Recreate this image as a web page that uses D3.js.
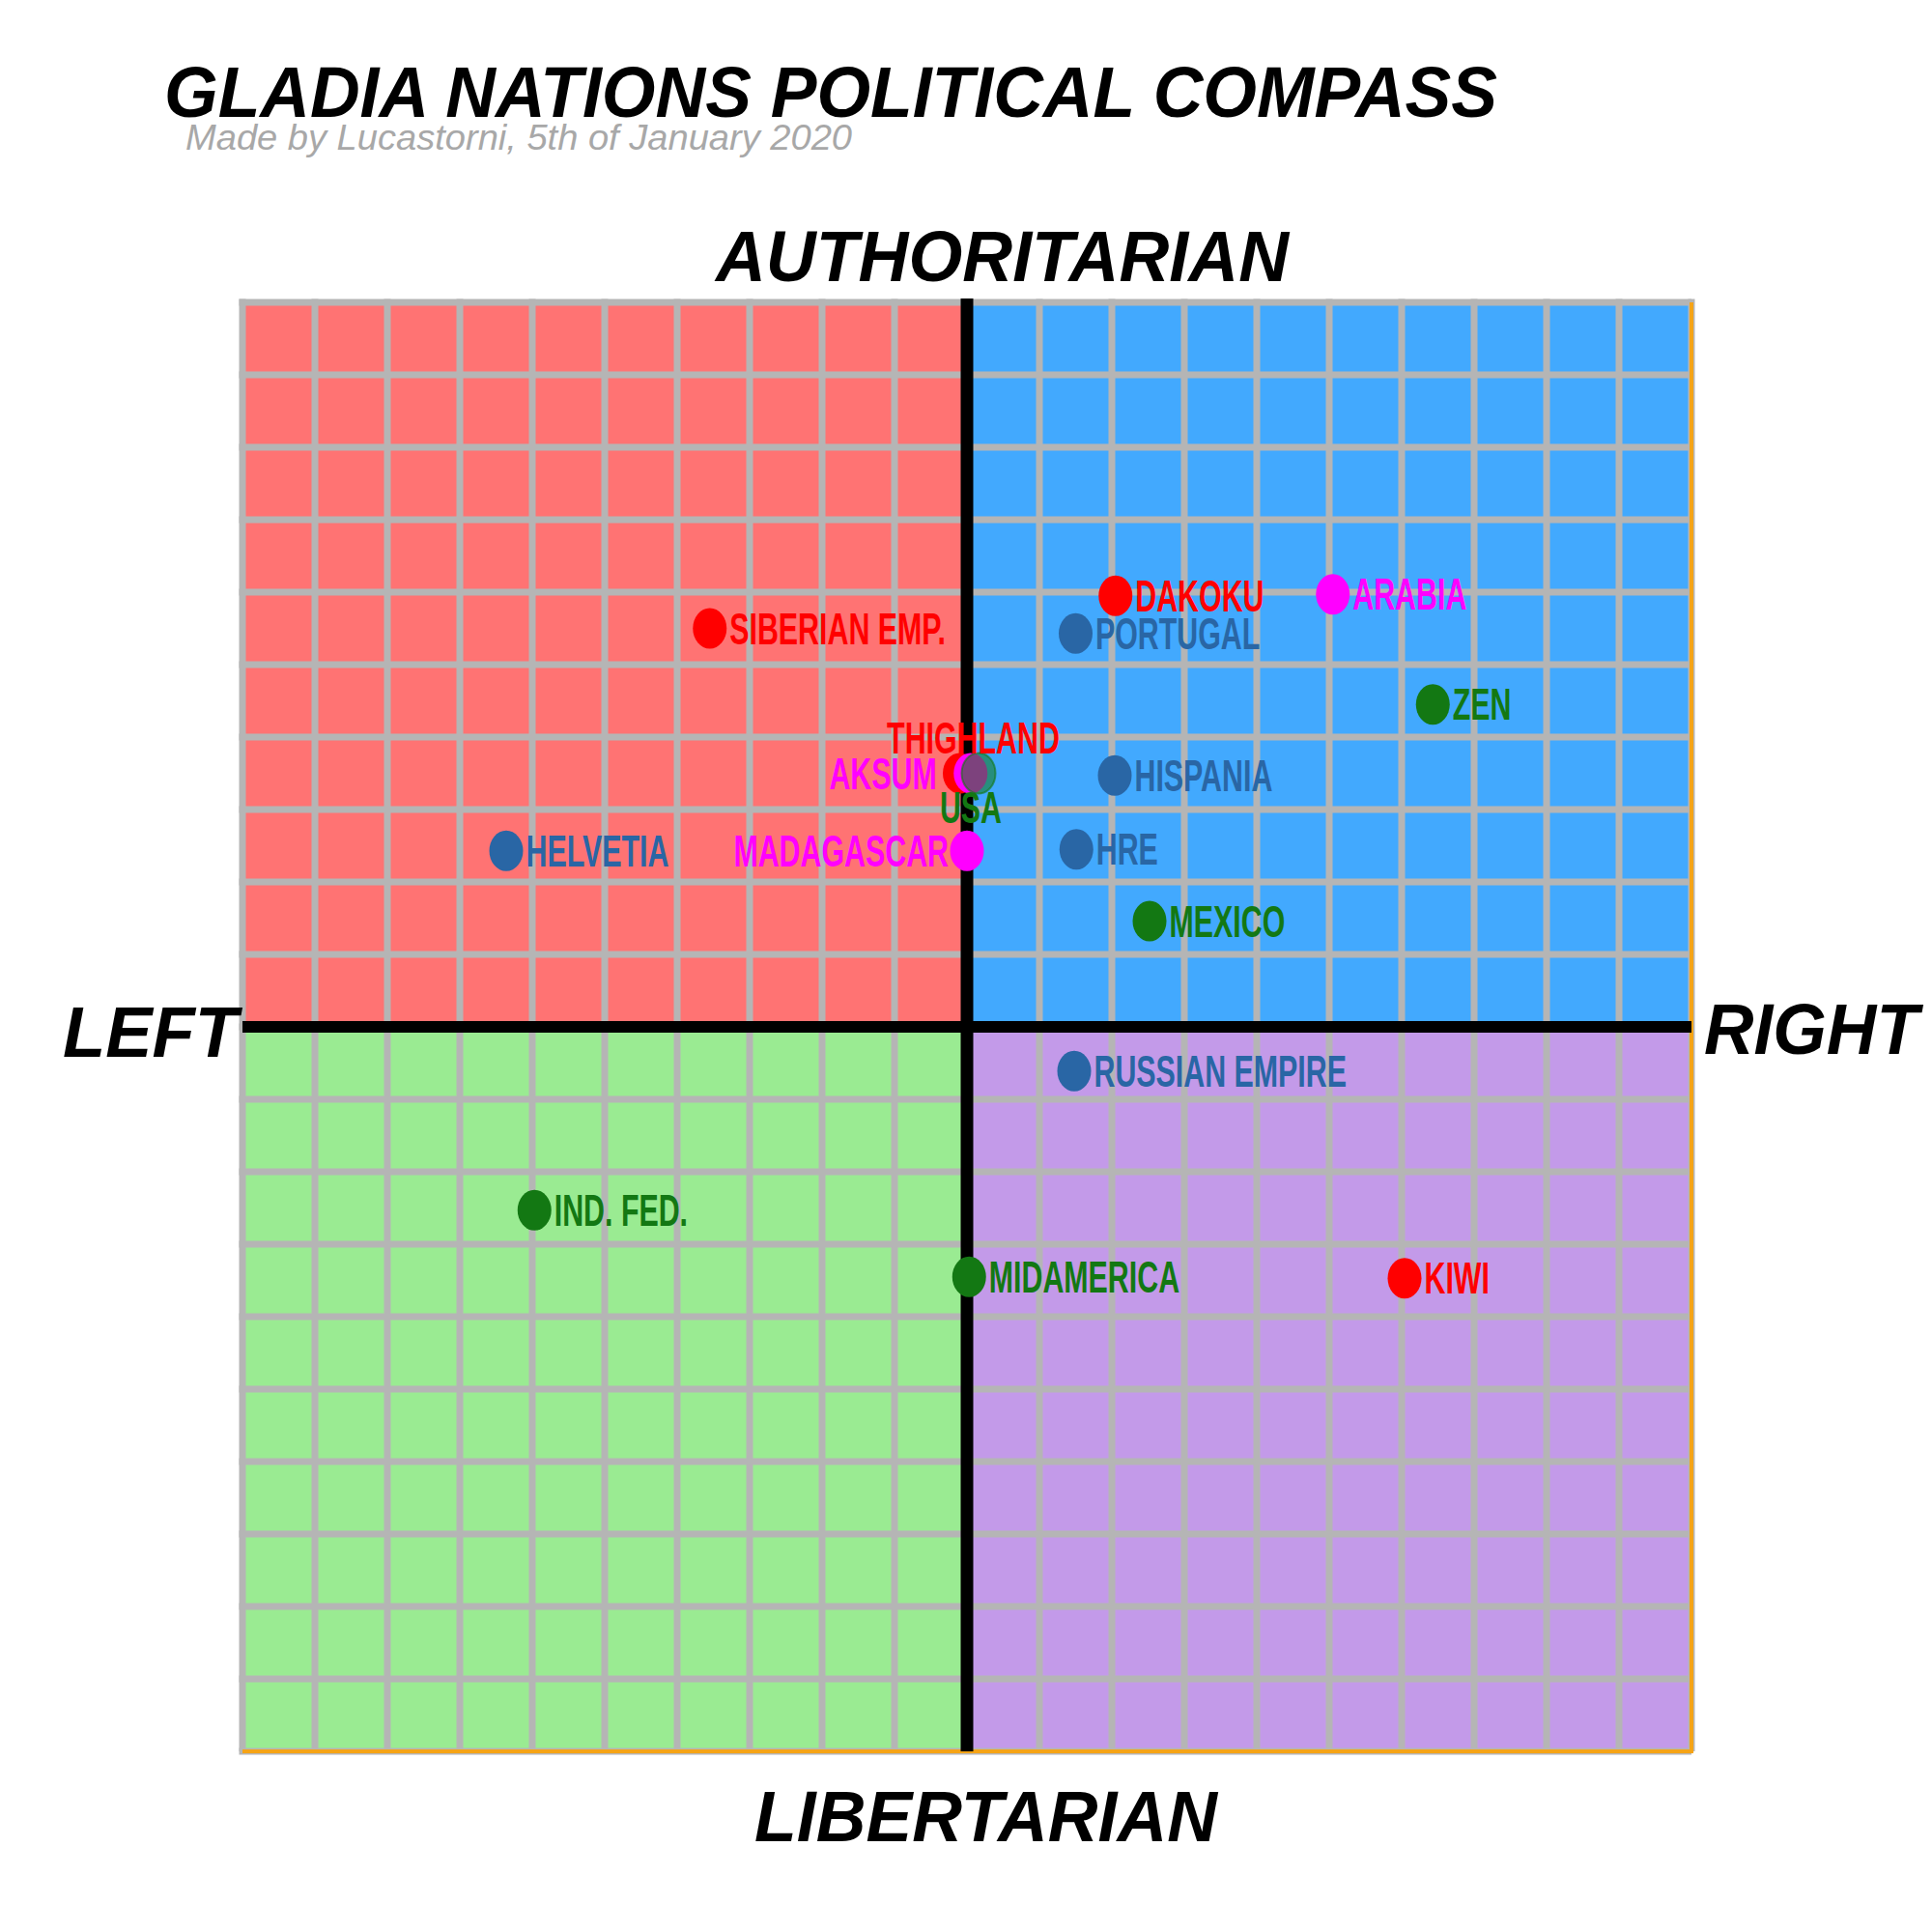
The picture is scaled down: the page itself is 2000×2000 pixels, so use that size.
<!DOCTYPE html>
<html>
<head>
<meta charset="utf-8">
<script src="https://cdn.jsdelivr.net/npm/d3@7"></script>
<style>
  body { margin: 0; background: #fff; }
  text { font-family: "Liberation Sans", Arial, sans-serif; }
</style>
</head>
<body>
<div id="compass"></div>
<script>
// nations on the compass
var names = ["SIBERIAN EMP.", "DAKOKU", "ARABIA", "PORTUGAL", "ZEN", "THIGHLAND", "AKSUM", "USA",
             "HISPANIA", "HELVETIA", "MADAGASCAR", "HRE", "MEXICO", "RUSSIAN EMPIRE", "IND. FED.",
             "MIDAMERICA", "KIWI"];
// economic axis (left -10 .. right 10)
var econ   = [-3.55, 2.05, 5.05, 1.5, 6.43, -0.1, 0.05, 0.16, 2.04, -6.36, 0.0, 1.51, 2.52, 1.48, -5.97, 0.03, 6.04];
// social axis (libertarian -10 .. authoritarian 10)
var social = [5.5, 5.95, 5.97, 5.43, 4.45, 3.5, 3.5, 3.5, 3.47, 2.43, 2.43, 2.45, 1.46, -0.61, -2.53, -3.45, -3.47];
var group  = ["red", "red", "pink", "blue", "green", "red", "pink", "green",
              "blue", "blue", "pink", "blue", "green", "blue", "green", "green", "red"];

var width = 2000, height = 2000;

var svg = d3.select("#compass").append("svg")
  .attr("width", width)
  .attr("height", height);

var x = d3.scaleLinear().domain([-10, 10]).range([251, 1751]);
var y = d3.scaleLinear().domain([-10, 10]).range([1813, 313]);

var dotColor = {red: "#ff0000", pink: "#ff00ff", blue: "#2966a5", green: "#137813"};

// quadrants
var quads = [
  {x0: -10, x1: 0, y0: 0, y1: 10, c: "#ff7373"},
  {x0: 0, x1: 10, y0: 0, y1: 10, c: "#42a9fe"},
  {x0: -10, x1: 0, y0: -10, y1: 0, c: "#9aeb92"},
  {x0: 0, x1: 10, y0: -10, y1: 0, c: "#c39ae9"}
];
svg.append("g").selectAll("rect")
  .data(quads)
  .enter()
  .append("rect")
  .attr("x", function(d) { return x(d.x0); })
  .attr("y", function(d) { return y(d.y1); })
  .attr("width", function(d) { return x(d.x1) - x(d.x0); })
  .attr("height", function(d) { return y(d.y0) - y(d.y1); })
  .style("fill", function(d) { return d.c; });

// grid
var ticks = d3.range(-10, 11);
var grid = svg.append("g").style("stroke", "#b5b5b5").style("stroke-width", 7);
grid.selectAll(".v").data(ticks).enter().append("line")
  .attr("x1", function(d) { return x(d); }).attr("x2", function(d) { return x(d); })
  .attr("y1", y(10) - 3.5).attr("y2", y(-10));
grid.selectAll(".h").data(ticks).enter().append("line")
  .attr("y1", function(d) { return y(d); }).attr("y2", function(d) { return y(d); })
  .attr("x1", x(-10) - 3.5).attr("x2", x(10));

// orange edge on right and bottom
svg.append("path")
  .attr("d", "M" + x(10) + "," + y(10) + "V" + y(-10) + "H" + x(-10))
  .style("fill", "none")
  .style("stroke", "#f5a417")
  .style("stroke-width", 4);

// main axes
svg.append("line")
  .attr("x1", x(0)).attr("x2", x(0)).attr("y1", y(10) - 4).attr("y2", y(-10))
  .style("stroke", "#000").style("stroke-width", 13);
svg.append("line")
  .attr("x1", x(-10)).attr("x2", x(10)).attr("y1", y(0)).attr("y2", y(0))
  .style("stroke", "#000").style("stroke-width", 12);

// headings
function heading(txt, px, py, len, size, color, weight) {
  svg.append("text")
    .attr("x", px).attr("y", py)
    .attr("textLength", len)
    .attr("lengthAdjust", "spacingAndGlyphs")
    .style("font-size", size + "px")
    .style("font-style", "italic")
    .style("font-weight", weight)
    .style("fill", color)
    .text(txt);
}
heading("GLADIA NATIONS POLITICAL COMPASS", 170, 121, 1380, 74, "#000", "bold");
heading("Made by Lucastorni, 5th of January 2020", 192, 155, 690, 37, "#a8a8a8", "normal");
heading("AUTHORITARIAN", 741, 291, 593, 75, "#000", "bold");
heading("LIBERTARIAN", 781, 1906, 479, 75, "#000", "bold");
heading("LEFT", 65, 1094, 181, 75, "#000", "bold");
heading("RIGHT", 1764, 1091, 222, 75, "#000", "bold");

// points
var data = names.map(function(n, i) {
  return {name: n, econ: econ[i], social: social[i], group: group[i]};
});

var rx = 17.5, ry = 21;

svg.append("g").selectAll("ellipse")
  .data(data)
  .enter()
  .append("ellipse")
  .attr("cx", function(d) { return x(d.econ); })
  .attr("cy", function(d) { return y(d.social); })
  .attr("rx", rx)
  .attr("ry", ry)
  .style("fill", function(d) { return dotColor[d.group]; })
  .style("fill-opacity", function(d) { return d.name == "USA" ? 0.55 : 1; })
  .style("stroke", function(d) { return d.name == "USA" ? dotColor[d.group] : "none"; })
  .style("stroke-width", 2)
  .style("stroke-opacity", 0.6);

// label placement (layout only)
var labelPos = {
  "AKSUM":      {dx: -35, dy: 16, anchor: "end"},
  "MADAGASCAR": {dx: -19, dy: 16, anchor: "end"},
  "THIGHLAND":  {dx: 14, dy: -21, anchor: "middle"},
  "USA":        {dx: -8, dy: 51, anchor: "middle"}
};

svg.append("g").selectAll("text")
  .data(data)
  .enter()
  .append("text")
  .attr("transform", function(d) {
    var p = labelPos[d.name] || {dx: rx + 3, dy: 16};
    return "translate(" + (x(d.econ) + p.dx) + "," + (y(d.social) + p.dy) + ") scale(0.66,1)";
  })
  .attr("text-anchor", function(d) { return labelPos[d.name] ? labelPos[d.name].anchor : "start"; })
  .style("font-size", "46px")
  .style("font-weight", "bold")
  .style("fill", function(d) { return dotColor[d.group]; })
  .text(function(d) { return d.name; });
</script>
</body>
</html>
